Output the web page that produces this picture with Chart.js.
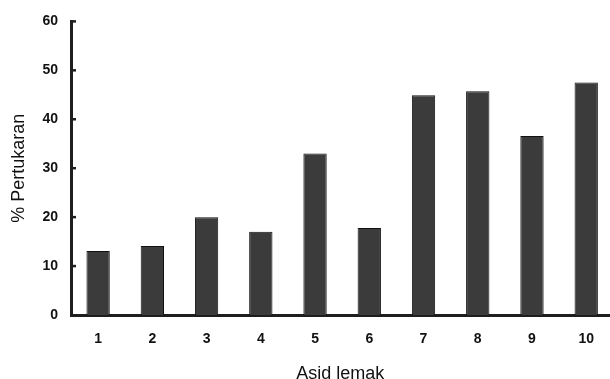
<!DOCTYPE html>
<html>
<head>
<meta charset="utf-8">
<script src="https://cdn.jsdelivr.net/npm/chart.js@4"></script>
<style>
  html, body { margin: 0; padding: 0; background: #fff; overflow: hidden; }
  #wrap { width: 610px; height: 379px; }
</style>
</head>
<body>
<div id="wrap"><canvas id="chart" width="610" height="379"></canvas></div>
<script>
// Fatty acid exchange chart
const categories = [1, 2, 3, 4, 5, 6, 7, 8, 9, 10];
const exchange = [13.1, 14.1, 20.0, 17.0, 33.0, 17.8, 44.9, 45.7, 36.6, 47.5];
const yTicks = [0, 10, 20, 30, 40, 50, 60];

const axisColor = '#1e1e1e';

// small tick marks drawn inside the plot, on the y axis
const innerTicks = {
    id: 'innerTicks',
    afterDraw(chart) {
        const ctx = chart.ctx;
        const y = chart.scales.y;
        const left = chart.chartArea.left;
        ctx.save();
        ctx.strokeStyle = axisColor;
        ctx.lineWidth = 2.5;
        yTicks.forEach(function (v) {
            if (v === 0) return;
            const py = y.getPixelForValue(v);
            ctx.beginPath();
            ctx.moveTo(left, py);
            ctx.lineTo(left + 5, py);
            ctx.stroke();
        });
        ctx.restore();
    }
};

const ctx = document.getElementById('chart').getContext('2d');
const chart = new Chart(ctx, {
    type: 'bar',
    data: {
        datasets: [{
            data: categories.map((c, i) => ({ x: c, y: exchange[i] })),
            backgroundColor: '#3b3b3b',
            borderColor: '#111',
            borderWidth: 1,
            categoryPercentage: 1,
            barPercentage: 0.43
        }]
    },
    options: {
        responsive: false,
        animation: false,
        layout: { padding: { top: 21, left: 0, right: 0, bottom: 0 } },
        plugins: {
            legend: { display: false },
            tooltip: { enabled: false }
        },
        scales: {
            x: {
                type: 'linear',
                offset: false,
                min: 0.5,
                max: 10.43,
                grid: { display: false, drawTicks: false },
                border: { display: true, color: axisColor, width: 3 },
                afterBuildTicks: function (scale) {
                    scale.ticks = categories.map(v => ({ value: v }));
                },
                afterFit: function (scale) { scale.height = 64; },
                ticks: {
                    color: '#111',
                    padding: 16,
                    maxRotation: 0,
                    autoSkip: false,
                    font: { family: 'Liberation Sans', size: 14, weight: 'bold' }
                },
                title: {
                    display: true,
                    text: 'Asid lemak',
                    color: '#111',
                    padding: { top: -4, bottom: -4 },
                    font: { family: 'Liberation Sans', size: 18, lineHeight: 1 }
                }
            },
            y: {
                min: 0,
                max: 60,
                grid: { display: false, drawTicks: false },
                border: { display: true, color: axisColor, width: 3 },
                afterBuildTicks: function (scale) {
                    scale.ticks = yTicks.map(v => ({ value: v }));
                },
                afterFit: function (scale) { scale.width = 71; },
                ticks: {
                    color: '#111',
                    padding: 13,
                    font: { family: 'Liberation Sans', size: 14, weight: 'bold' }
                },
                title: {
                    display: true,
                    text: '% Pertukaran',
                    color: '#111',
                    padding: { top: 8, bottom: 0 },
                    font: { family: 'Liberation Sans', size: 18 }
                }
            }
        }
    },
    plugins: [innerTicks]
});
</script>
</body>
</html>
